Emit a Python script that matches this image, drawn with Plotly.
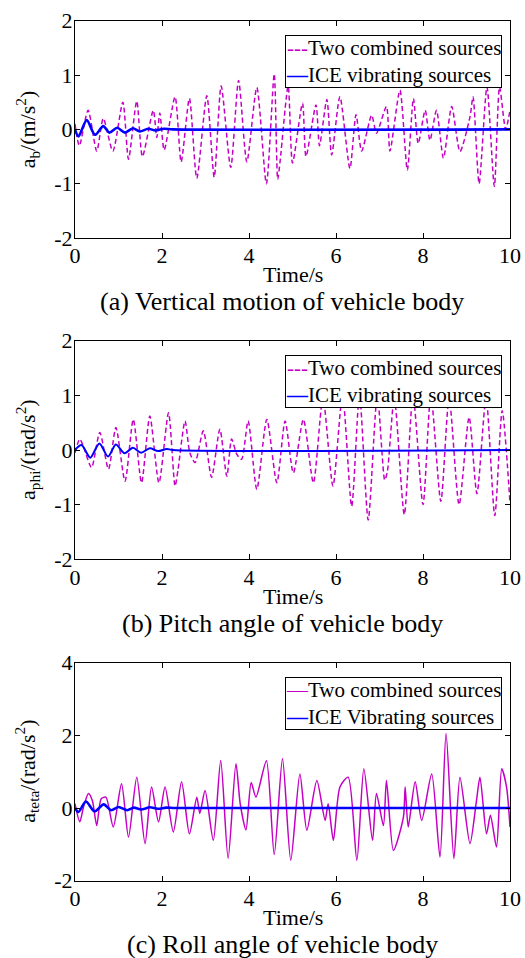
import plotly.graph_objects as go

# ---------------- data ----------------
# (a) vertical motion
a_two_t = [0, 0.1, 0.3, 0.5, 0.65, 0.87, 1.1, 1.23, 1.42, 1.55, 1.8, 1.88, 1.95, 2.05, 2.3, 2.44, 2.63, 2.8, 3.03, 3.2,
           3.36, 3.58, 3.76, 3.95, 4.18, 4.4, 4.58, 4.66, 4.72, 4.9, 5.0, 5.23, 5.31, 5.54, 5.62, 5.79, 5.9, 6.09,
           6.32, 6.46, 6.59, 6.82, 6.93, 7.16, 7.24, 7.47, 7.64, 7.78, 7.89, 8.05, 8.16, 8.31, 8.47, 8.66, 8.85,
           9.08, 9.15, 9.29, 9.47, 9.64, 9.76, 9.9, 10.0]
a_two_v = [0.1, -0.3, 0.35, -0.4, 0.2, -0.4, 0.5, -0.55, 0.52, -0.5, 0.35, -0.15, 0.3, -0.38, 0.6, -0.6, 0.57, -0.9,
           0.62, -0.88, 0.8, -0.7, 0.9, -0.6, 0.77, -1.0, 1.02, -0.92, -0.55, 0.8, -0.62, 0.48, -0.5, 0.45, -0.3,
           0.55, -0.47, 0.6, -0.72, 0.27, -0.4, 0.26, -0.07, 0.42, -0.4, 0.72, -0.75, 0.57, -0.26, 0.35, -0.2, 0.35,
           -0.53, 0.42, -0.41, 0.23, 0.6, -1.0, 0.78, -1.05, 0.78, 0.0, 0.35]
a_ice_t = [0, 0.08, 0.27, 0.46, 0.65, 0.79, 0.97, 1.15, 1.33, 1.49, 1.68, 1.85, 2.05, 2.25, 10.0]
a_ice_v = [0.0, -0.13, 0.17, -0.1, 0.06, -0.06, 0.03, -0.06, 0.02, -0.04, 0.01, -0.02, 0.01, 0.0, 0.0]

# (b) pitch angle
b_two_t = [0, 0.11, 0.2, 0.38, 0.57, 0.77, 0.94, 1.15, 1.34, 1.53, 1.72, 1.93, 2.15, 2.3, 2.37, 2.53, 2.64, 2.76,
           2.95, 3.14, 3.33, 3.49, 3.6, 3.72, 3.83, 3.98, 4.18, 4.41, 4.64, 4.83, 5.02, 5.25, 5.48, 5.7, 5.93,
           6.15, 6.36, 6.54, 6.74, 6.95, 7.12, 7.18, 7.34, 7.57, 7.77, 8.0, 8.18, 8.41, 8.6, 8.83, 9.06, 9.24,
           9.45, 9.65, 9.82, 10.0]
b_two_v = [-0.05, 0.2, 0.05, -0.32, 0.32, -0.35, 0.41, -0.57, 0.56, -0.6, 0.62, -0.6, 0.68, -0.66, -0.35, 0.53,
           -0.05, -0.23, 0.35, -0.5, 0.38, -0.48, 0.2, -0.08, -0.17, 0.53, -0.72, 0.56, -0.6, 0.53, -0.42, 0.56,
           -0.6, 0.95, -0.66, 1.0, -1.03, 1.0, -1.28, 1.0, -0.55, -0.4, 0.95, -1.18, 1.0, -1.0, 1.0, -0.94, 0.95,
           -1.0, 0.6, -0.8, 0.95, -1.2, 0.72, -0.97]
b_ice_t = [0, 0.15, 0.35, 0.56, 0.76, 0.94, 1.14, 1.33, 1.52, 1.72, 1.91, 2.11, 2.25, 10.0]
b_ice_v = [0.0, 0.09, -0.14, 0.12, -0.12, 0.1, -0.06, 0.04, -0.05, 0.03, -0.02, 0.02, 0.0, 0.0]

# (c) roll angle
c_two_t = [0, 0.11, 0.2, 0.31, 0.4, 0.5, 0.6, 0.71, 0.88, 1.07, 1.23, 1.42, 1.61, 1.76, 1.92, 2.07, 2.26, 2.45,
           2.63, 2.8, 2.87, 2.99, 3.18, 3.35, 3.52, 3.7, 3.8, 3.93, 4.05, 4.16, 4.4, 4.58, 4.77, 4.96, 5.17, 5.33,
           5.56, 5.75, 5.82, 5.94, 6.09, 6.28, 6.48, 6.64, 6.84, 6.93, 7.09, 7.16, 7.32, 7.55, 7.59, 7.66, 7.82,
           7.97, 8.2, 8.39, 8.53, 8.71, 8.85, 9.08, 9.23, 9.31, 9.46, 9.55, 9.69, 9.81, 9.92, 10.0]
c_two_v = [0.12, -0.38, 0.05, 0.4, 0.2, -0.48, 0.25, 0.3, -0.52, 0.67, -0.8, 0.85, -0.98, 0.58, -0.38, 0.58,
           -0.66, 0.72, -0.71, 0.3, -0.15, 0.48, -0.89, 1.31, -1.39, 1.22, 0.1, -0.6, 0.7, 0.3, 1.3, -1.28, 1.36,
           -1.44, 0.94, -0.61, 0.76, -0.34, 0.12, -0.89, 0.58, 0.85, -1.44, 1.08, -0.89, 0.4, -0.48, 0.76, -1.17,
           -0.25, 0.58, -0.52, 0.72, -0.34, 0.94, -1.35, 2.05, -1.39, 0.85, -0.98, 0.21, 0.85, -0.71, -0.2, -1.07,
           1.08, 0.58, -0.52]
c_ice_t = [0, 0.08, 0.25, 0.45, 0.66, 0.83, 1.0, 1.2, 1.35, 1.52, 1.72, 1.9, 2.1, 2.3, 10.0]
c_ice_v = [0.0, -0.11, 0.18, -0.09, 0.1, -0.06, 0.03, -0.06, 0.01, -0.04, 0.02, -0.02, 0.01, 0.0, 0.0]

x_ticks = [0, 2, 4, 6, 8, 10]
x_ticktext = ["0", "2", "4", "6", "8", "10"]
ab_ticks = [-2, -1, 0, 1, 2]
ab_ticktext = ["-2", "-1", "0", "1", "2"]
c_ticks = [-2, 0, 2, 4]
c_ticktext = ["-2", "0", "2", "4"]

legend_two = ["Two combined sources"] * 3
legend_ice = ["ICE vibrating sources", "ICE vibrating sources", "ICE Vibrating sources"]
legend_two_sample = ["---", "---", "\u2014"]
y_titles = ["a<sub>b</sub>/(m/s<sup>2</sup>)", "a<sub>phi</sub>/(rad/s<sup>2</sup>)",
            "a<sub>teta</sub>/(rad/s<sup>2</sup>)"]
captions = ["(a) Vertical motion of vehicle body", "(b) Pitch angle of vehicle body",
            "(c) Roll angle of vehicle body"]

# ---------------- figure ----------------
W, H = 525, 958
FONT = "Liberation Serif"
MAG = "#C400C4"
BLUE = "#0000FF"

fig = go.Figure()

panels = [
    (a_two_t, a_two_v, a_ice_t, a_ice_v, "dash", ab_ticks, ab_ticktext, [-2, 2], 2.6),
    (b_two_t, b_two_v, b_ice_t, b_ice_v, "dash", ab_ticks, ab_ticktext, [-2, 2], 2.0),
    (c_two_t, c_two_v, c_ice_t, c_ice_v, "solid", c_ticks, c_ticktext, [-2, 4], 2.6),
]
# pixel boxes (top, bottom) of each plot area
boxes = [(20.7, 238.0), (340.7, 559.3), (662.7, 880.7)]
x_left, x_right = 75.0, 510.0

def py(p):
    return 1 - p / H

for i, (tt, tv, it, iv, dash, yt, ytt, yr, bw) in enumerate(panels):
    n = "" if i == 0 else str(i + 1)
    fig.add_trace(go.Scatter(
        x=tt, y=tv, mode="lines", name=legend_two[i], showlegend=False,
        line=dict(color=MAG, width=1.5, dash=("5px,3px" if dash == "dash" else "solid"),
                  shape="spline", smoothing=0.7),
        xaxis="x" + n, yaxis="y" + n))
    fig.add_trace(go.Scatter(
        x=it, y=iv, mode="lines", name=legend_ice[i], showlegend=False,
        line=dict(color=BLUE, width=bw, shape="spline", smoothing=0.8),
        xaxis="x" + n, yaxis="y" + n))

    top, bot = boxes[i]
    axis_common = dict(showline=True, linecolor="black", linewidth=1, mirror="ticks",
                       ticks="inside", ticklen=5, tickcolor="black", showgrid=False,
                       zeroline=False, automargin=False,
                       tickfont=dict(family=FONT, size=22, color="black"))
    fig.update_layout(**{
        "xaxis" + n: dict(domain=[x_left / W, x_right / W], range=[0, 10], tickvals=x_ticks,
                          ticktext=x_ticktext, anchor="y" + n, ticklabelstandoff=-2, **axis_common),
        "yaxis" + n: dict(domain=[py(bot), py(top)], range=yr, tickvals=yt, ticktext=ytt,
                          anchor="x" + n, ticklabelstandoff=-3, **axis_common),
    })
    # legend box (drawn as a bordered text block)
    leg_text = ("<span style='color:%s'>%s</span>%s<br><span style='color:%s'><b>\u2014</b></span>%s"
                % (MAG, legend_two_sample[i], legend_two[i], BLUE, legend_ice[i]))
    fig.add_annotation(text=leg_text, x=502 / W, y=py(top + 14.5), xref="paper", yref="paper",
                       showarrow=False, xanchor="right", yanchor="top", align="left",
                       bgcolor="white", bordercolor="black", borderwidth=1, borderpad=0,
                       font=dict(family=FONT, size=21, color="black"))
    # axis titles and captions
    fig.add_annotation(text="Time/s", x=(x_left + x_right) / 2 / W, y=py(bot + 37), xref="paper",
                       yref="paper", showarrow=False, xanchor="center", yanchor="middle",
                       font=dict(family=FONT, size=22, color="black"))
    fig.add_annotation(text=captions[i], x=282 / W, y=py(bot + 64), xref="paper", yref="paper",
                       showarrow=False, xanchor="center", yanchor="middle",
                       font=dict(family=FONT, size=26, color="black"))
    fig.add_annotation(text=y_titles[i], x=27 / W, y=py((top + bot) / 2), xref="paper",
                       yref="paper", showarrow=False, textangle=-90, xanchor="center",
                       yanchor="middle", font=dict(family=FONT, size=22, color="black"))

fig.update_layout(width=W, height=H, margin=dict(l=0, r=0, t=0, b=0, autoexpand=False),
                  paper_bgcolor="white", plot_bgcolor="white", showlegend=False,
                  font=dict(family=FONT, color="black"))

fig.write_html("out.html", config={"displayModeBar": False},
               post_script="document.body.style.margin='0px';document.body.style.overflow='hidden';")
